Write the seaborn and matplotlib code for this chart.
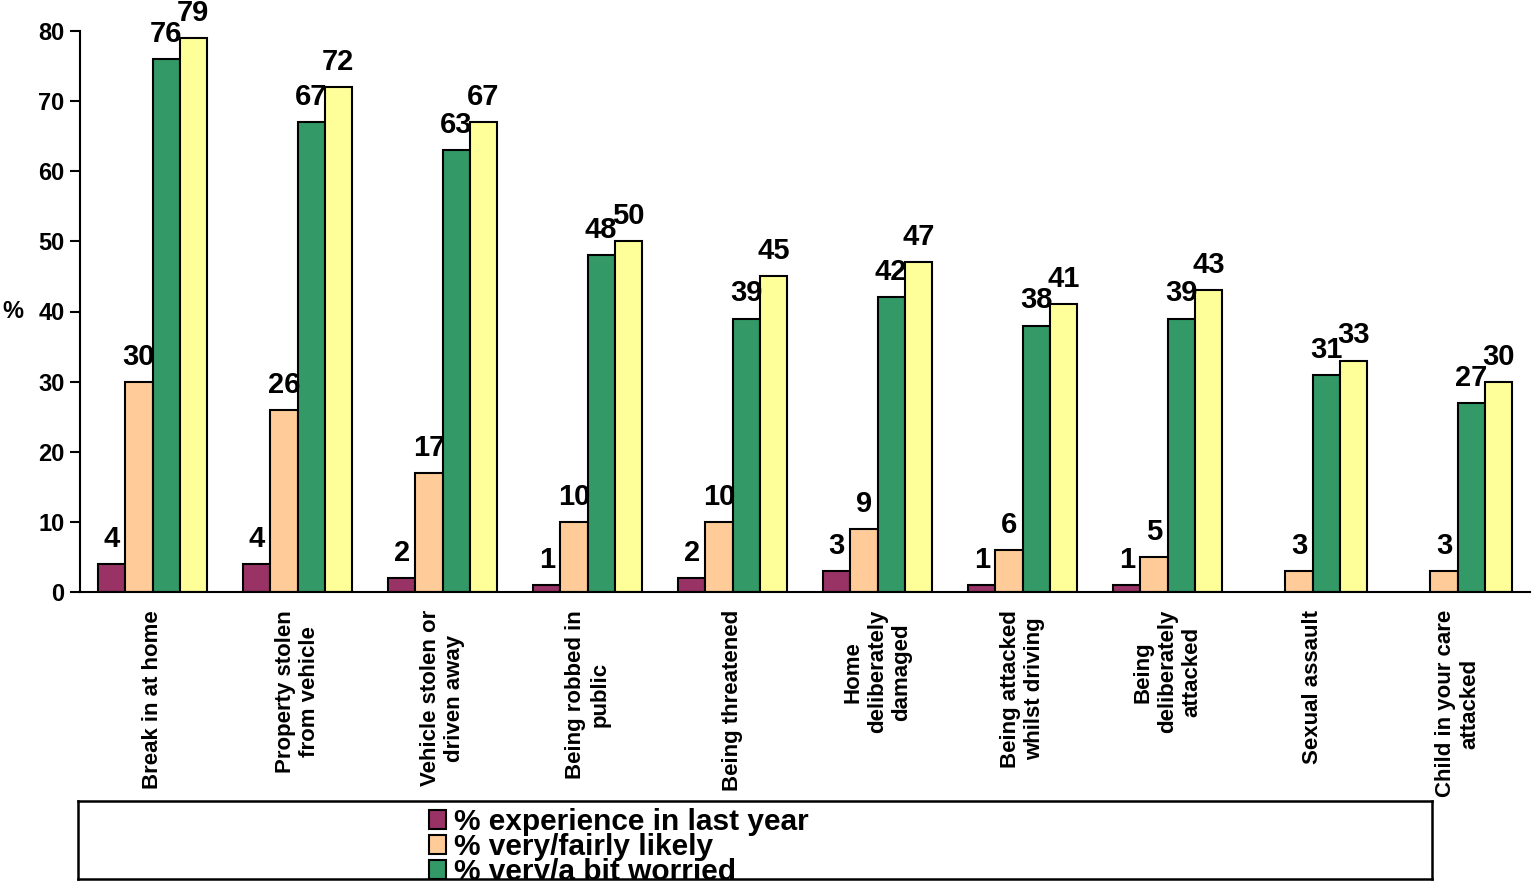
import numpy as np
import pandas as pd
import matplotlib
matplotlib.use('Agg')
import matplotlib.pyplot as plt
import seaborn as sns
from matplotlib.patches import Patch

# values
categories = ['Break in at home', 'Property stolen\nfrom vehicle', 'Vehicle stolen or\ndriven away',
              'Being robbed in\npublic', 'Being threatened', 'Home\ndeliberately\ndamaged',
              'Being attacked\nwhilst driving', 'Being\ndeliberately\nattacked', 'Sexual assault',
              'Child in your care\nattacked']
experience = [4, 4, 2, 1, 2, 3, 1, 1, np.nan, np.nan]
likely = [30, 26, 17, 10, 10, 9, 6, 5, 3, 3]
worried = [76, 67, 63, 48, 39, 42, 38, 39, 31, 27]
fourth = [79, 72, 67, 50, 45, 47, 41, 43, 33, 30]

series_names = ['% experience in last year', '% very/fairly likely', '% very/a bit worried', 'fourth series']
colors = ['#993366', '#FFCC99', '#339966', '#FFFF99']
yticks = [0, 10, 20, 30, 40, 50, 60, 70, 80]

sns.set_style('white')
plt.rcParams['font.family'] = ['Liberation Sans', 'DejaVu Sans']
plt.rcParams['text.color'] = 'black'
plt.rcParams['xtick.color'] = 'black'
plt.rcParams['ytick.color'] = 'black'
plt.rcParams['axes.labelcolor'] = 'black'

df = pd.DataFrame({
    'category': categories * 4,
    'series': np.repeat(series_names, len(categories)),
    'value': experience + likely + worried + fourth,
})

fig = plt.figure(figsize=(15.35, 8.84), dpi=100)
ax = fig.add_axes([80 / 1535, 292 / 884, 1450 / 1535, 561 / 884])

sns.barplot(data=df, x='category', y='value', hue='series', palette=colors,
            order=categories, hue_order=series_names, edgecolor='black', linewidth=1.5,
            width=0.75, saturation=1, errorbar=None, legend=False, ax=ax)

for c in ax.containers:
    ax.bar_label(c, fmt='%g', padding=8, fontsize=21, fontweight='bold', color='black')

ax.set_ylim(0, 80)
ax.set_xlim(-0.5, len(categories) - 0.5)
ax.set_yticks(yticks)
ax.set_yticklabels([str(t) for t in yticks], fontsize=17, fontweight='bold')
ax.set_xticks(range(len(categories)))
ax.set_xticklabels(categories, rotation=90, fontsize=16, fontweight='bold',
                   va='top', ha='center', multialignment='center')
ax.set_xticks(np.arange(-0.5, len(categories)), minor=True)
ax.tick_params(axis='x', which='major', length=0, pad=13)
ax.tick_params(axis='x', which='minor', length=7, width=1.5, direction='out', color='black')
ax.tick_params(axis='y', length=7, width=1.5, direction='out', color='black', pad=4, left=True)
ax.set_xlabel('')
ax.set_ylabel('%', rotation=0, fontsize=17, fontweight='bold', ha='center', va='center')
ax.yaxis.set_label_coords(-0.046, 0.5)

for side in ['top', 'right']:
    ax.spines[side].set_visible(False)
for side in ['left', 'bottom']:
    ax.spines[side].set_color('black')
    ax.spines[side].set_linewidth(1.5)

# legend box at the bottom, cut off as in the original
lax = fig.add_axes([78 / 1535, 5 / 884, 1354 / 1535, 78 / 884])
lax.set_xticks([])
lax.set_yticks([])
for s in lax.spines.values():
    s.set_color('black')
    s.set_linewidth(1.8)

handles = [Patch(facecolor=col, edgecolor='black', linewidth=1.5, label=name)
           for col, name in zip(colors[:3], series_names[:3])]
leg = lax.legend(handles=handles, loc='upper left', bbox_to_anchor=(0.2545, 0.99), frameon=False,
                 prop=dict(family='Liberation Sans', weight='bold', size=21.5),
                 handlelength=0.6, handleheight=0.6, handletextpad=0.25,
                 labelspacing=-0.1, borderpad=0.2, borderaxespad=0)
for a in leg.findobj():
    if a is not leg:
        a.set_clip_path(lax.patch)

fig.savefig('out.png', dpi=100, facecolor='white')
